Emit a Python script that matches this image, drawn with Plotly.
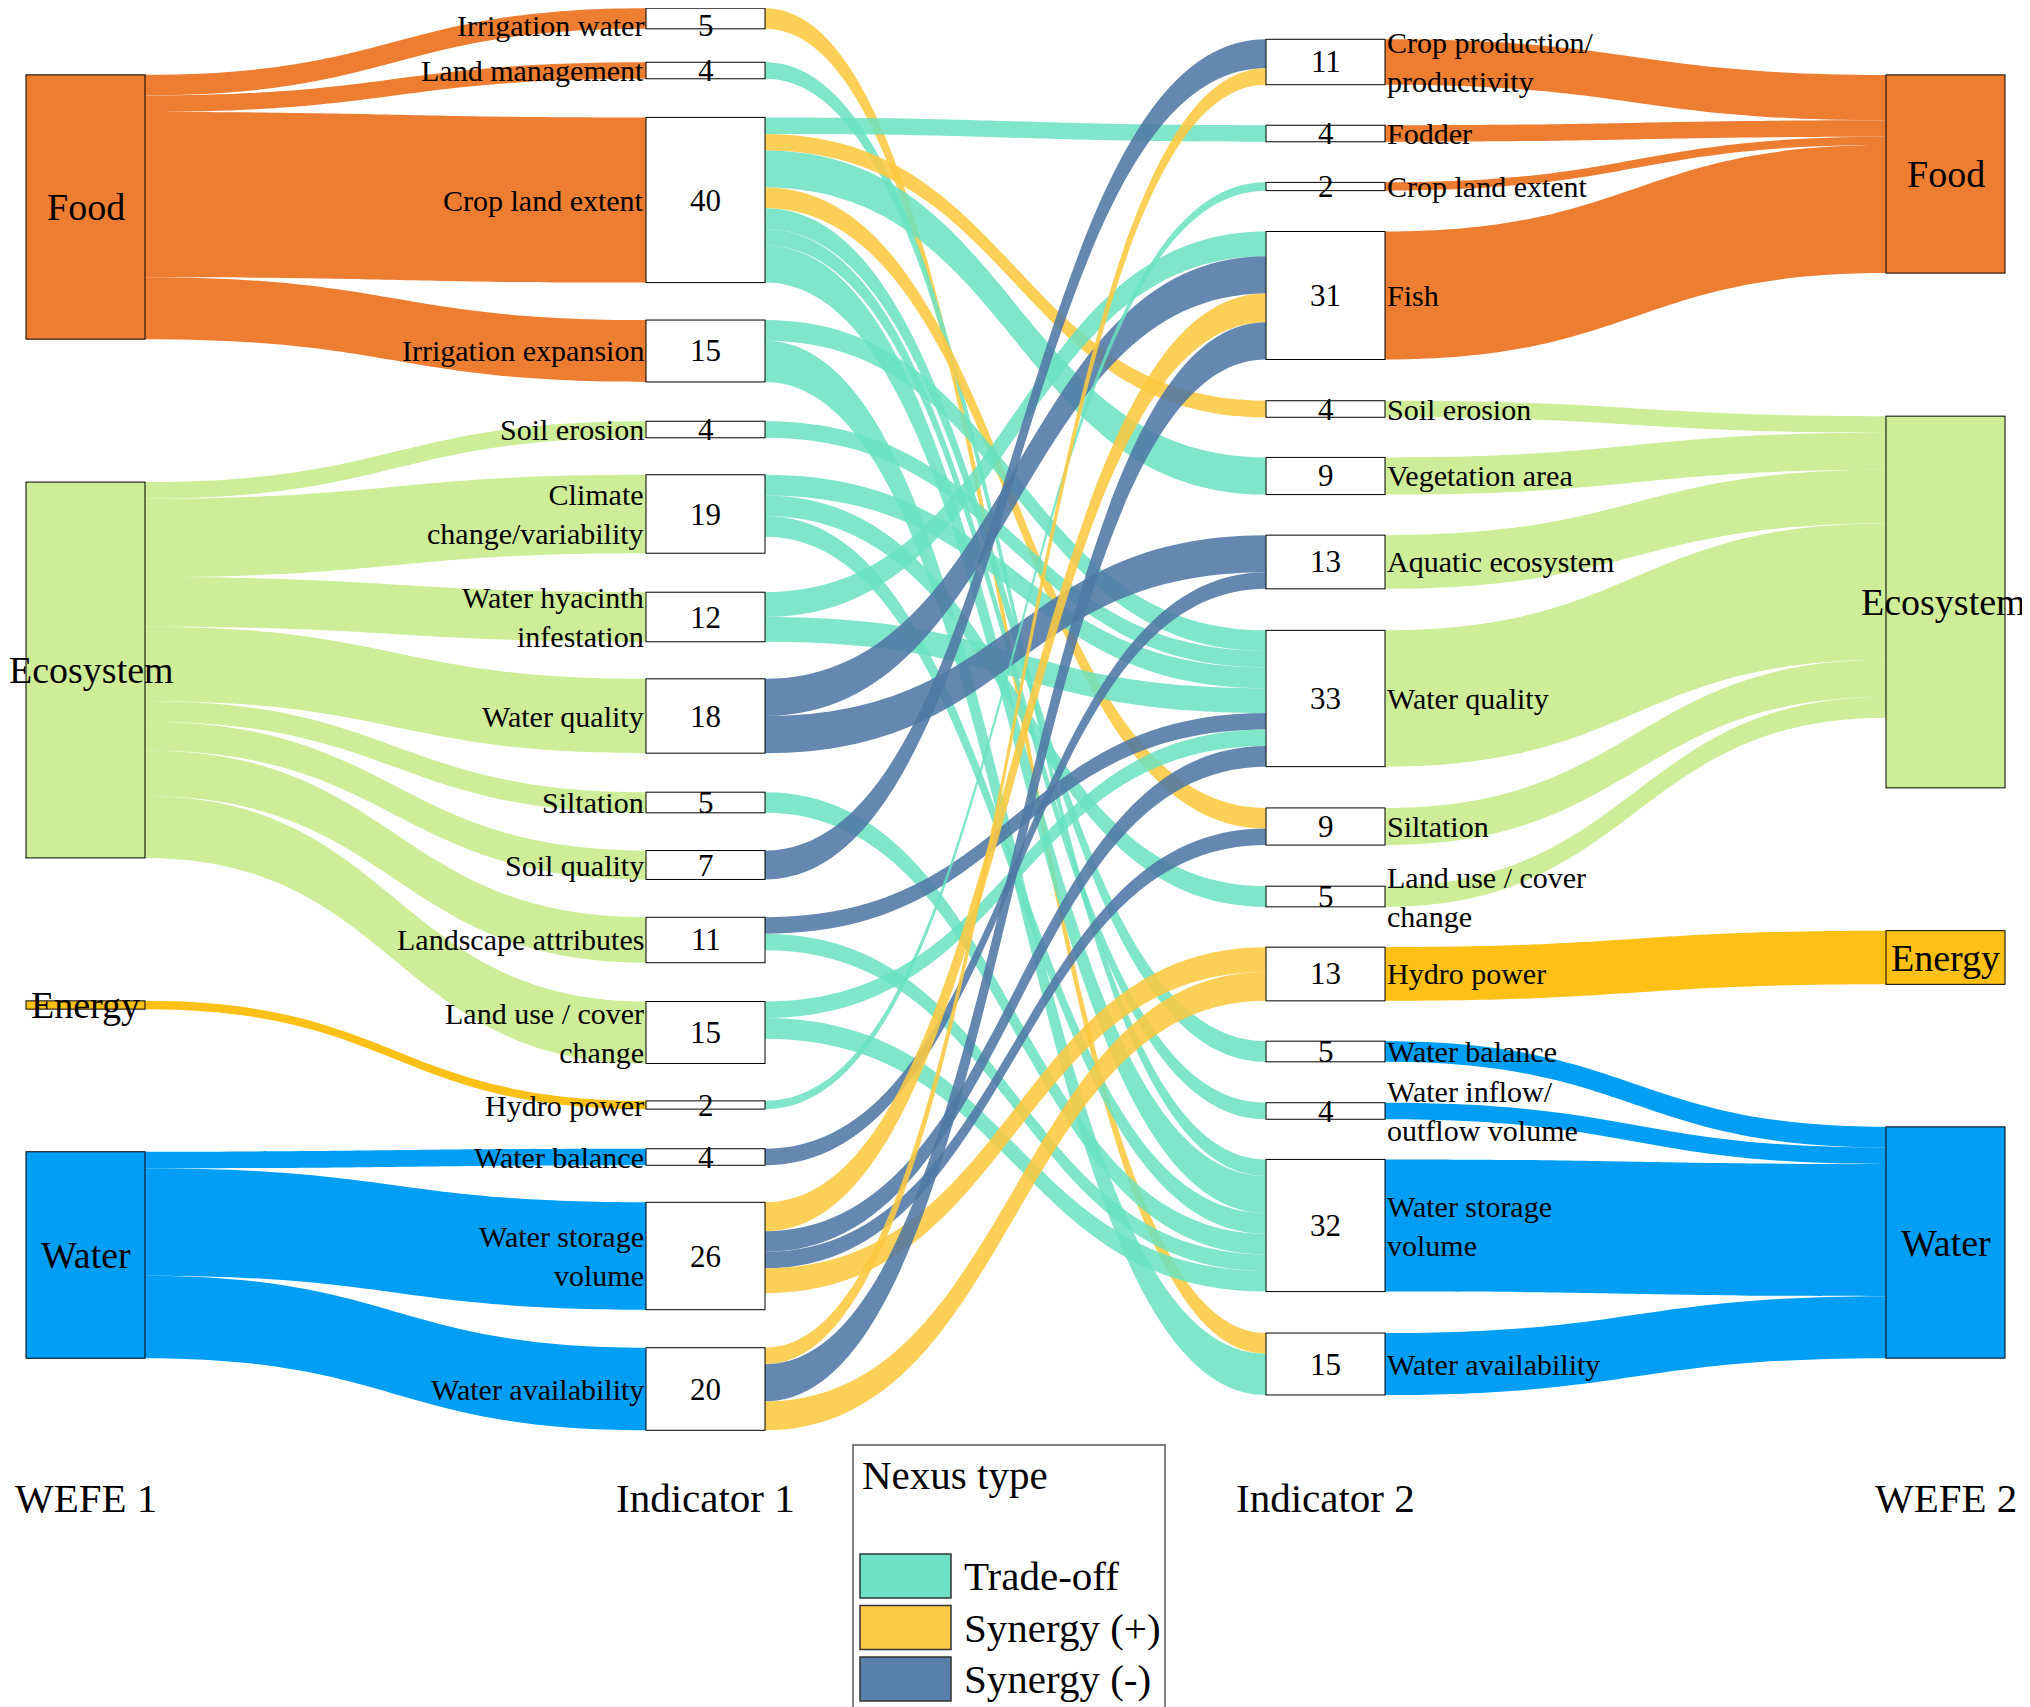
import plotly.graph_objects as go

FONT = "Liberation Serif, Times New Roman, serif"
PAGE_W, PAGE_H = 2030, 1707
OFF = 8                      # the page body keeps its default 8px margin
W, H = PAGE_W - OFF, PAGE_H - OFF

# ---------------- data ----------------
wefe = ["Food", "Ecosystem", "Energy", "Water"]
# WEFE 2 boxes as drawn in the source (Ecosystem box is taller than its inflows)
wefe2_sizes = [48, 90, 13, 56]

ind1_labels = ["Irrigation water", "Land management", "Crop land extent", "Irrigation expansion",
               "Soil erosion", "Climate<br>change/variability", "Water hyacinth<br>infestation",
               "Water quality", "Siltation", "Soil quality", "Landscape attributes",
               "Land use / cover<br>change", "Hydro power", "Water balance",
               "Water storage<br>volume", "Water availability"]
ind1_counts = [5, 4, 40, 15, 4, 19, 12, 18, 5, 7, 11, 15, 2, 4, 26, 20]
ind1_sector = ["Food"] * 4 + ["Ecosystem"] * 8 + ["Energy"] + ["Water"] * 3

ind2_labels = ["Crop production/<br>productivity", "Fodder", "Crop land extent", "Fish",
               "Soil erosion", "Vegetation area", "Aquatic ecosystem", "Water quality",
               "Siltation", "Land use / cover<br>change", "Hydro power", "Water balance",
               "Water inflow/<br>outflow volume", "Water storage<br>volume", "Water availability"]
ind2_counts = [11, 4, 2, 31, 4, 9, 13, 33, 9, 5, 13, 5, 4, 32, 15]
ind2_sector = ["Food"] * 4 + ["Ecosystem"] * 6 + ["Energy"] + ["Water"] * 4

# indicator 1 -> indicator 2 links (indices into the two indicator lists)
nexus_src = [0, 1, 2, 2, 2, 2, 2, 2, 2, 3, 3, 4, 5, 5, 5, 6, 6, 7, 7, 8, 9, 10, 10,
             11, 11, 12, 13, 14, 14, 14, 14, 15, 15, 15]
nexus_tgt = [14, 13, 1, 4, 5, 8, 11, 12, 13, 7, 14, 7, 7, 9, 13, 3, 7, 3, 6, 13, 0, 7, 13,
             7, 13, 2, 6, 3, 7, 8, 10, 0, 3, 10]
nexus_val = [5, 4, 4, 4, 9, 5, 5, 4, 9, 5, 10, 4, 5, 5, 5, 6, 6, 9, 9, 5, 7, 4, 4,
             4, 5, 2, 4, 7, 5, 4, 6, 4, 9, 7]
nexus_type = ["S+", "T", "T", "S+", "T", "S+", "T", "T", "T", "T", "T", "T", "T", "T", "T",
              "T", "T", "S-", "S-", "T", "S-", "S-", "T", "T", "T", "T", "S-",
              "S+", "S-", "S-", "S+", "S+", "S-", "S+"]

legend_names = ["Trade-off", "Synergy (+)", "Synergy (-)"]
column_titles = ["WEFE 1", "Indicator 1", "Indicator 2", "WEFE 2"]

# ---------------- styling / layout ----------------
sector_color = {"Food": "rgb(237,125,49)", "Ecosystem": "rgb(205,237,152)",
                "Energy": "rgb(252,192,22)", "Water": "rgb(0,158,245)"}
nexus_color = {"T": "rgba(104,226,192,0.85)", "S+": "rgba(252,200,64,0.88)",
               "S-": "rgba(80,120,165,0.88)"}
legend_color = ["rgb(110,226,196)", "rgb(252,202,70)", "rgb(88,128,170)"]

# positions in page pixels
col_x = [85.5, 705.5, 1325.5, 1945.5]     # column centres
thick = 119
wefe1_y = [207, 670, 1005, 1255]
ind1_y = [18.5, 70.5, 200, 351, 429.5, 514, 617, 716, 802.5, 865, 940, 1032.5,
          1105, 1157, 1256, 1389]
ind2_y = [62, 133.5, 186.5, 295.5, 409, 476, 562, 698.5, 826.5, 896.5, 974,
          1051.5, 1111, 1225.5, 1364]
wefe2_y = [174, 602, 957.5, 1242.5]
# label centres that need to stay clear of the page edges
wefe1_label_x = [85.5, 91, 85.5, 85.5]
wefe2_label_x = [1945.5, 1943, 1945.5, 1945.5]
ind1_text_y = [26] + ind1_y[1:]


def px(x):
    return (x - OFF) / W


def py(y):
    return (y - OFF) / H


n1, n2 = len(ind1_labels), len(ind2_labels)
o_i1 = 4
o_i2 = o_i1 + n1
o_w2 = o_i2 + n2
pad_node = o_w2 + 4

node_x = [px(col_x[0])] * 4 + [px(col_x[1])] * n1 + [px(col_x[2])] * n2 + [px(col_x[3])] * 4 + [1.4]
node_y = [py(v) for v in wefe1_y + ind1_y + ind2_y + wefe2_y + [wefe2_y[1]]]
node_color = ([sector_color[s] for s in wefe] + ["rgba(255,255,255,0)"] * (n1 + n2)
              + [sector_color[s] for s in wefe] + ["rgba(0,0,0,0)"])
node_lw = [2.5] * pad_node + [0]

src, tgt, val, col = [], [], [], []
for i, s in enumerate(ind1_sector):
    src.append(wefe.index(s)); tgt.append(o_i1 + i); val.append(ind1_counts[i])
    col.append(sector_color[s])
for a, b, v, t in zip(nexus_src, nexus_tgt, nexus_val, nexus_type):
    src.append(o_i1 + a); tgt.append(o_i2 + b); val.append(v); col.append(nexus_color[t])
for j, s in enumerate(ind2_sector):
    src.append(o_i2 + j); tgt.append(o_w2 + wefe.index(s)); val.append(ind2_counts[j])
    col.append(sector_color[s])
# invisible outflow (off-canvas) so the WEFE 2 boxes keep the size shown in the source
for k, s in enumerate(wefe):
    inflow = sum(c for c, sec in zip(ind2_counts, ind2_sector) if sec == s)
    if wefe2_sizes[k] > inflow:
        src.append(o_w2 + k); tgt.append(pad_node); val.append(wefe2_sizes[k])
        col.append("rgba(0,0,0,0)")

unit = 4.13
pad = (H - sum(ind1_counts) * unit) / (n1 - 1)

fig = go.Figure(go.Sankey(
    arrangement="fixed",
    domain=dict(x=[0, 1], y=[0, 1]),
    node=dict(
        pad=pad, thickness=thick,
        x=node_x, y=node_y,
        color=node_color,
        line=dict(color="black", width=node_lw),
        label=[""] * (pad_node + 1),
        hoverinfo="skip",
    ),
    link=dict(source=src, target=tgt, value=val, color=col, hoverinfo="skip"),
))

ann = []


def add_text(x, y, text, size, xanchor="center", align="center"):
    ann.append(dict(x=px(x), y=1 - py(y), xref="paper", yref="paper", text=text,
                    showarrow=False, xanchor=xanchor, yanchor="middle", align=align,
                    font=dict(family=FONT, size=size, color="black")))


for s, x, y in zip(wefe, wefe1_label_x, wefe1_y):
    add_text(x, y, s, 38)
for s, x, y in zip(wefe, wefe2_label_x, wefe2_y):
    add_text(x, y, s, 38)
for lab, c, y in zip(ind1_labels, ind1_counts, ind1_text_y):
    add_text(col_x[1] - thick / 2, y, lab, 30, xanchor="right", align="right")
    add_text(col_x[1], y, str(c), 31)
for lab, c, y in zip(ind2_labels, ind2_counts, ind2_y):
    add_text(col_x[2] + thick / 2, y, lab, 30, xanchor="left", align="left")
    add_text(col_x[2], y, str(c), 31)
for t, x in zip(column_titles, col_x):
    add_text(x, 1498, t, 41)

# legend
shapes = [dict(type="rect", xref="paper", yref="paper", x0=px(853), x1=px(1165),
               y0=1 - py(1712), y1=1 - py(1445), line=dict(color="#808080", width=2),
               fillcolor="white")]
add_text(860, 1475, "Nexus type", 41, xanchor="left")
for k, (name, c) in enumerate(zip(legend_names, legend_color)):
    yc = 1576 + k * 51.5
    shapes.append(dict(type="rect", xref="paper", yref="paper", x0=px(860), x1=px(951),
                       y0=1 - py(yc + 22), y1=1 - py(yc - 22), fillcolor=c,
                       line=dict(color="#333333", width=1.5)))
    add_text(962, yc, name, 41, xanchor="left")

fig.update_layout(width=W, height=H, margin=dict(l=0, r=0, t=0, b=0),
                  paper_bgcolor="white", annotations=ann, shapes=shapes,
                  font=dict(family=FONT))

fig.write_html("out.html")
